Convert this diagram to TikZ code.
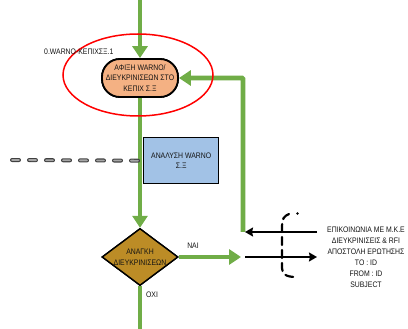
\documentclass[tikz,border=0pt]{standalone}
\usepackage{fontspec}
\setmainfont{Liberation Sans}[FakeStretch=0.86]
\usetikzlibrary{arrows.meta,shapes.geometric}
\definecolor{flowgreen}{HTML}{70AD47}
\definecolor{peach}{HTML}{F4B183}
\definecolor{paleblue}{HTML}{A2C2E6}
\definecolor{ochre}{HTML}{BC8C26}
\definecolor{ink}{HTML}{141414}
\tikzset{
  x=1pt, y=-1pt,
  every node/.style={font=\fontsize{8}{10.5}\selectfont, text=ink},
  flowline/.style={draw=flowgreen, line width=4.6pt},
  flow/.style={flowline, -{Triangle[width=15pt,length=12pt]}},
  msg/.style={draw=black, line width=2.4pt, -{Stealth[width=9pt,length=8pt,inset=1pt]}},
  terminal/.style={draw=black, line width=1.8pt, fill=peach, rounded corners=18pt,
    minimum width=76pt, minimum height=38pt, inner sep=1pt, align=center},
  process/.style={draw=black, line width=1.4pt, fill=paleblue,
    minimum width=75pt, minimum height=46pt, inner sep=1pt, align=center},
  decision/.style={draw=black, line width=1.4pt, fill=ochre, shape=diamond, aspect=1.33,
    minimum width=76pt, minimum height=57pt, inner sep=0pt, align=center},
  plain/.style={inner sep=0pt, align=center}
}
\begin{document}
\begin{tikzpicture}
\useasboundingbox (0,0) rectangle (408,329);

% main flow nodes
\node[terminal] (arrival) at (140,78) {ΑΦΙΞΗ WARNO/\\ΔΙΕΥΚΡΙΝΙΣΕΩΝ ΣΤΟ\\ΚΕΠΙΧ Σ.Ξ};
\node[process, anchor=north west] (analysis) at (143,137) {ΑΝΑΛΥΣΗ WARNO\\Σ.Ξ};
\node[decision] (need) at (140,257) {ΑΝΑΓΚΗ\\ΔΙΕΥΚΡΙΝΙΣΕΩΝ};

% loose ends of the connectors
\coordinate (top) at (140,0);
\coordinate (bottom) at (140,330);
\coordinate (yesend) at (241,257);
\coordinate (loopstart) at (243,232);
\coordinate (replyin) at (317,232);
\coordinate (replyend) at (245,232);
\coordinate (askstart) at (245,257);
\coordinate (askend) at (317,257);
\coordinate (dashstart) at (12,160);

% green flow connectors
\draw[flow] (top) -- (arrival.north);
\draw[flow] (arrival.south) -- (need.north);
\draw[flowline] (need.south) -- (bottom);
\draw[flow] (need.east) -- (yesend);
\draw[flow, rounded corners=1pt] (loopstart) |- (arrival.east);

% redraw the shapes above the green lines
\node[terminal] at (arrival) {ΑΦΙΞΗ WARNO/\\ΔΙΕΥΚΡΙΝΙΣΕΩΝ ΣΤΟ\\ΚΕΠΙΧ Σ.Ξ};
\node[process] at (analysis) {ΑΝΑΛΥΣΗ WARNO\\Σ.Ξ};
\node[decision] at (need) {ΑΝΑΓΚΗ\\ΔΙΕΥΚΡΙΝΙΣΕΩΝ};

% dashed input line
\draw[draw=black!75, line width=4pt, line cap=round, dash pattern=on 7pt off 10pt]
  (dashstart) -- (analysis.west);
\draw[draw=black!35, line width=1.8pt, line cap=round, dash pattern=on 7pt off 10pt]
  (dashstart) -- (analysis.west);

% message arrows
\draw[msg] (replyin) -- (replyend);
\draw[msg] (askstart) -- (askend);

% dashed bracket across the message arrows
\draw[line width=2.2pt, line cap=round, dash pattern=on 8pt off 5pt]
  (289,214) .. controls (284,216) and (282,219) .. (282,226) -- (282,268)
  .. controls (282,274) and (286,277) .. (296,277);
\fill (297.5,213.5) circle (1.3pt);

% ring and labels
\node[draw=red, line width=1.5pt, ellipse, minimum width=150pt, minimum height=82pt] (ring) at (138,75) {};
\node[plain, anchor=west] (code) at (44,52) {0.WARNO-ΚΕΠΙΧΣΞ.1};
\node[plain] (yes) at (193,246) {ΝΑΙ};
\node[plain] (no) at (152,295) {ΟΧΙ};
\node[plain, anchor=north, font=\fontsize{8}{11}\selectfont] (msgtext) at (366,227)
  {ΕΠΙΚΟΙΝΩΝΙΑ ΜΕ Μ.Κ.Ε\\ΔΙΕΥΚΡΙΝΙΣΕΙΣ \& RFI\\ΑΠΟΣΤΟΛΗ ΕΡΩΤΗΣΗΣ\\TO : ID\\FROM : ID\\SUBJECT};
\end{tikzpicture}
\end{document}
